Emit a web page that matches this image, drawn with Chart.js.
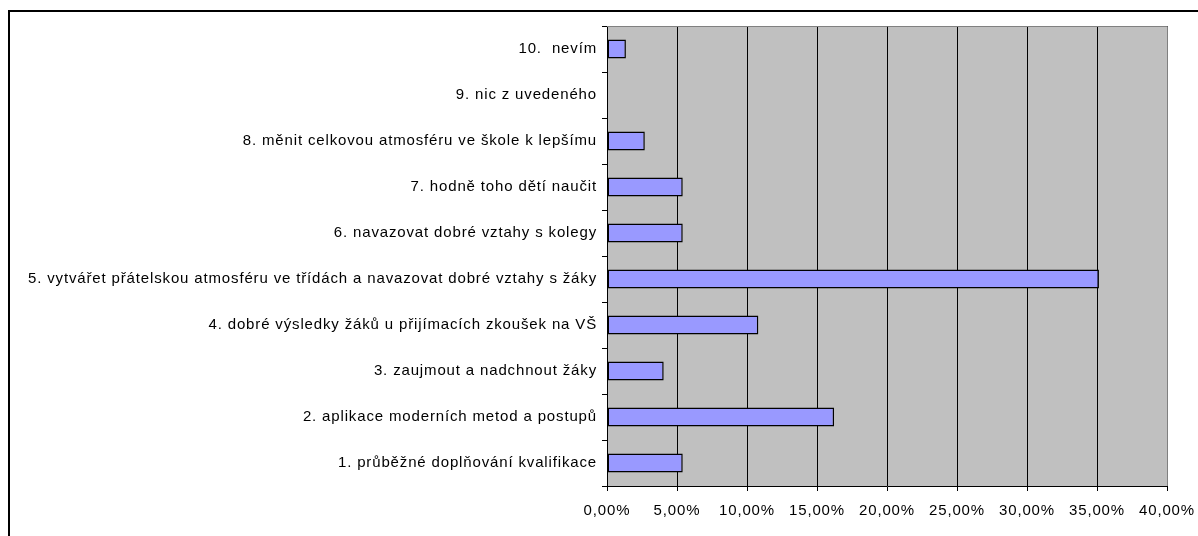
<!DOCTYPE html>
<html lang="cs">
<head>
<meta charset="utf-8">
<title>Graf</title>
<script src="https://cdn.jsdelivr.net/npm/chart.js@4/dist/chart.umd.min.js"></script>
<style>
  html, body { margin: 0; padding: 0; background: #fff; overflow: hidden; }
  .frame {
    position: absolute; left: 8px; top: 10px;
    width: 1300px; height: 700px;
    border: 2px solid #000;
  }
  #chart { position: absolute; left: 0; top: 0; }
</style>
</head>
<body>
<div class="frame"></div>
<canvas id="chart" width="1198" height="536"></canvas>
<script>
// odpovědi, shora dolů
const labels = [
  "10.  nevím",
  "9. nic z uvedeného",
  "8. měnit celkovou atmosféru ve škole k lepšímu",
  "7. hodně toho dětí naučit",
  "6. navazovat dobré vztahy s kolegy",
  "5. vytvářet přátelskou atmosféru ve třídách a navazovat dobré vztahy s žáky",
  "4. dobré výsledky žáků u přijímacích zkoušek na VŠ",
  "3. zaujmout a nadchnout žáky",
  "2. aplikace moderních metod a postupů",
  "1. průběžné doplňování kvalifikace",
];
const percents = [1.35, 0, 2.7, 5.41, 5.41, 35.14, 10.81, 4.05, 16.22, 5.41];
const xMax = 40;
const xStep = 5;

const fontFamily = "'Liberation Sans', Arial, sans-serif";

// šedé pozadí plochy, širší písmo a šedý rámeček nahoře a vpravo
const plotArea = {
  id: "plotArea",
  beforeDraw(chart) {
    const { ctx, chartArea: a } = chart;
    ctx.letterSpacing = "0.85px";
    ctx.save();
    ctx.fillStyle = "#c0c0c0";
    ctx.fillRect(a.left, a.top, a.right - a.left, a.bottom - a.top);
    ctx.restore();
  },
  afterDraw(chart) {
    const { ctx, chartArea: a } = chart;
    ctx.save();
    ctx.strokeStyle = "#808080";
    ctx.lineWidth = 1;
    ctx.beginPath();
    ctx.moveTo(a.left, a.top + 0.5);
    ctx.lineTo(a.right + 0.5, a.top + 0.5);
    ctx.lineTo(a.right + 0.5, a.bottom);
    ctx.stroke();
    ctx.restore();
  },
};

const ctx = document.getElementById("chart").getContext("2d");
new Chart(ctx, {
  type: "bar",
  data: {
    labels: labels,
    datasets: [
      {
        data: percents,
        backgroundColor: "#9999ff",
        borderColor: "#000",
        borderWidth: 1.5,
        borderSkipped: false,
        categoryPercentage: 1,
        barPercentage: 0.41,
      },
    ],
  },
  options: {
    indexAxis: "y",
    responsive: false,
    animation: false,
    layout: { padding: { top: 26, right: 31, bottom: 0, left: 0 } },
    plugins: {
      legend: { display: false },
      tooltip: { enabled: false },
    },
    scales: {
      x: {
        min: 0,
        max: xMax,
        afterFit: (scale) => {
          scale.height = 50;
          scale.paddingLeft = 0;
          scale.paddingRight = 0;
        },
        grid: { color: "#000", tickLength: 5, tickColor: "#000" },
        border: { color: "#000" },
        ticks: {
          stepSize: xStep,
          padding: 11,
          color: "#000",
          font: { family: fontFamily, size: 15 },
          callback: (v) => v.toFixed(2).replace(".", ",") + "%",
          maxRotation: 0,
        },
      },
      y: {
        afterFit: (scale) => { scale.width = 607; },
        grid: {
          offset: true,
          drawOnChartArea: false,
          tickLength: 5,
          tickColor: "#000",
        },
        border: { color: "#000" },
        ticks: {
          padding: 5,
          color: "#000",
          font: { family: fontFamily, size: 15 },
          autoSkip: false,
        },
      },
    },
  },
  plugins: [plotArea],
});
</script>
</body>
</html>
